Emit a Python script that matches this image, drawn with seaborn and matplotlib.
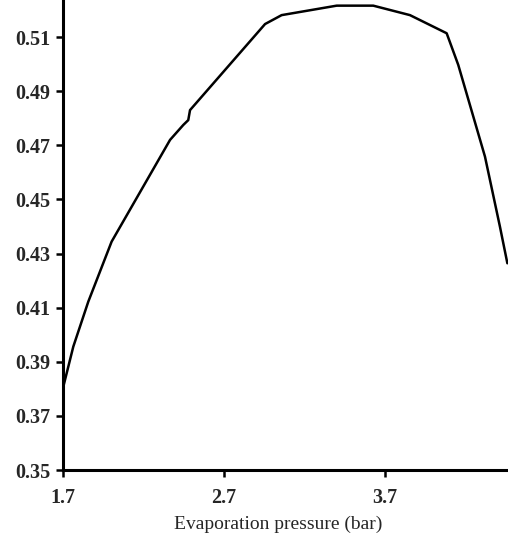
import matplotlib
matplotlib.use("Agg")
import matplotlib.pyplot as plt
import seaborn as sns
import pandas as pd

pressure = [1.702, 1.764, 1.857, 2.002, 2.365, 2.447, 2.478, 2.489, 2.955, 3.058,
            3.400, 3.627, 3.855, 4.083, 4.155, 4.321, 4.414, 4.460]
efficiency = [0.3808, 0.3956, 0.4122, 0.4344, 0.4720, 0.4775, 0.4793, 0.4830, 0.5148, 0.5181,
              0.5216, 0.5216, 0.5181, 0.5114, 0.4997, 0.4658, 0.4399, 0.4264]
x_ticks = [1.7, 2.7, 3.7]
y_ticks = [0.35, 0.37, 0.39, 0.41, 0.43, 0.45, 0.47, 0.49, 0.51]
x_label = "Evaporation pressure (bar)"

df = pd.DataFrame({"p": pressure, "eff": efficiency})

sns.set_style("ticks")
plt.rcParams["font.family"] = ["Liberation Serif", "DejaVu Serif"]

fig = plt.figure(figsize=(5.08, 5.36), dpi=100)
ax = fig.add_axes([63 / 508, 66 / 536, 445 / 508, 470 / 536])
sns.lineplot(data=df, x="p", y="eff", ax=ax, color="black", linewidth=1.8,
             estimator=None, sort=False)

ax.set_xlim(1.7, 1.7 + 445 / 161)
ax.set_ylim(0.35, 0.35 + 470 / 2706)
ax.set_xticks(x_ticks)
ax.set_xticklabels([f"{v:.1f}" for v in x_ticks])
ax.set_yticks(y_ticks)
ax.set_yticklabels([f"{v:.2f}" for v in y_ticks])
ax.tick_params(axis="both", labelsize=14.5, width=1.8, length=5, direction="out", color="black")
ax.tick_params(axis="y", pad=4)
ax.tick_params(axis="x", pad=8)
for lbl in ax.get_xticklabels() + ax.get_yticklabels():
    lbl.set_fontweight("bold")
ax.set_xlabel(x_label, fontsize=14)
ax.xaxis.set_label_coords(0.484, -0.098)
ax.set_ylabel("")
for s in ["top", "right"]:
    ax.spines[s].set_visible(False)
for s in ["left", "bottom"]:
    ax.spines[s].set_linewidth(2.2)
    ax.spines[s].set_color("black")

fig.savefig("out.png", dpi=100)
